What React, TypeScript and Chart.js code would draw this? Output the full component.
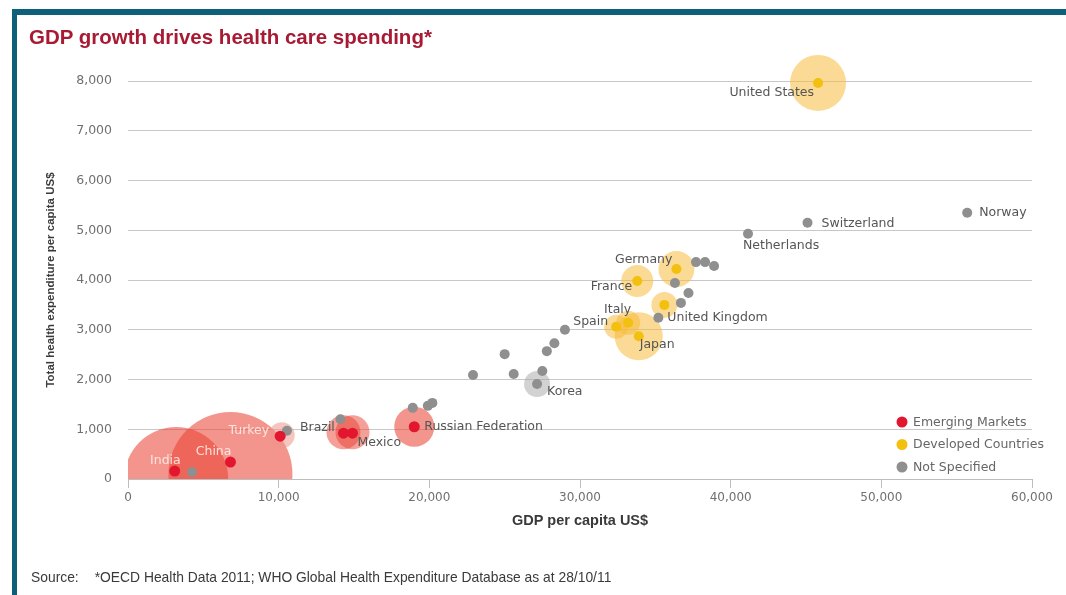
import { useEffect, useRef } from "react";
import { Chart, registerables } from "chart.js";

Chart.register(...registerables);

// ---------- DATA ----------
const xTickValues = [0, 10000, 20000, 30000, 40000, 50000, 60000];
const yTickValues = [0, 1000, 2000, 3000, 4000, 5000, 6000, 7000, 8000];

// Emerging markets (red)
const emergingNames = ["India", "China", "Turkey", "Mexico", "", "Russian Federation"];
const emergingGdp = [3100, 6800, 10100, 14300, 14900, 19000];
const emergingHealth = [160, 340, 860, 920, 920, 1050];
// emerging bubbles
const emergingBubbleGdp = [3200, 6800, 10200, 14300, 14900, 19000];
const emergingBubbleHealth = [0, 100, 880, 940, 940, 1050];
const emergingBubbleSize = [52, 62, 13, 17, 17, 20];

// Developed countries (yellow)
const developedNames = ["United States", "Germany", "France", "United Kingdom", "Italy", "Spain", "Japan"];
const developedGdp = [45800, 36400, 33800, 35600, 33200, 32400, 33900];
const developedHealth = [7960, 4220, 3980, 3500, 3140, 3060, 2870];
const developedBubbleSize = [28, 18, 16, 13, 12, 12, 24];

// Not specified (grey)
const otherNames = ["", "Brazil", "", "", "", "", "", "", "", "", "", "", "", "Korea", "", "", "", "", "", "", "", "Netherlands", "Switzerland", "Norway"];
const otherGdp = [4250, 10550, 14100, 18900, 19900, 20200, 22900, 25000, 25600, 27500, 27800, 28300, 29000, 27150, 35200, 36700, 37200, 36300, 37700, 38300, 38900, 41150, 45100, 55700];
const otherHealth = [140, 970, 1200, 1430, 1470, 1530, 2090, 2510, 2110, 2170, 2570, 2730, 3000, 1910, 3240, 3540, 3740, 3940, 4360, 4360, 4280, 4930, 5150, 5350];
const otherBubbleSize = [0, 0, 0, 0, 0, 0, 0, 0, 0, 0, 0, 0, 0, 13, 0, 0, 0, 0, 0, 0, 0, 0, 0, 0];

const legendLabels = ["Emerging Markets", "Developed Countries", "Not Specified"];

// ---------- STYLES ----------
const RED = "#e2172f";
const YELLOW = "#f3c010";
const GREY = "#8f8f8f";
const emergingBubbleColors = [
  "rgba(234,66,50,0.56)",
  "rgba(234,66,50,0.56)",
  "rgba(238,150,140,0.55)",
  "rgba(234,66,50,0.5)",
  "rgba(234,66,50,0.5)",
  "rgba(234,66,50,0.56)",
];
const developedBubbleColor = "rgba(245,188,60,0.55)";
const otherBubbleColor = "rgba(165,165,165,0.5)";
const labelFont = '12.5px "DejaVu Sans", sans-serif';

const labelLayout: Record<string, { dx: number; dy: number; align: CanvasTextAlign; light?: boolean }> = {
  "United States": { dx: -4, dy: 10, align: "right" },
  Switzerland: { dx: 14, dy: 1, align: "left" },
  Norway: { dx: 12, dy: 0, align: "left" },
  Netherlands: { dx: -5, dy: 12, align: "left" },
  Germany: { dx: -4, dy: -9, align: "right" },
  France: { dx: -5, dy: 6, align: "right" },
  Italy: { dx: 3, dy: -13, align: "right" },
  Spain: { dx: -8, dy: -5, align: "right" },
  "United Kingdom": { dx: 3, dy: 13, align: "left" },
  Japan: { dx: 1, dy: 9, align: "left" },
  Korea: { dx: 10, dy: 8, align: "left" },
  "Russian Federation": { dx: 10, dy: 0, align: "left" },
  Mexico: { dx: 14, dy: 10, align: "left" },
  Brazil: { dx: 13, dy: -3, align: "left" },
  Turkey: { dx: -11, dy: -5, align: "right", light: true },
  China: { dx: 1, dy: -10, align: "right", light: true },
  India: { dx: 6, dy: -10, align: "right", light: true },
};

const countryLabelPlugin = {
  id: "countryLabels",
  afterDatasetsDraw(chart: any) {
    const ctx = chart.ctx;
    ctx.save();
    ctx.font = labelFont;
    ctx.textBaseline = "middle";
    chart.data.datasets.forEach((ds: any, di: number) => {
      if (!ds.names) return;
      const meta = chart.getDatasetMeta(di);
      ds.names.forEach((name: string, i: number) => {
        if (!name) return;
        const el = meta.data[i];
        const lay = labelLayout[name] || { dx: 8, dy: 0, align: "left" };
        ctx.textAlign = lay.align;
        ctx.fillStyle = lay.light ? "rgba(255,236,232,0.9)" : "#555555";
        ctx.fillText(name, el.x + lay.dx, el.y + lay.dy);
      });
    });
    ctx.restore();
  },
};

const legendPlugin = {
  id: "customLegend",
  afterDraw(chart: any) {
    const { ctx, chartArea } = chart;
    const colors = [RED, YELLOW, GREY];
    ctx.save();
    ctx.font = labelFont;
    ctx.textBaseline = "middle";
    ctx.textAlign = "left";
    legendLabels.forEach((text, i) => {
      const cx = chartArea.right - 130;
      const cy = chartArea.bottom - 57 + i * 22.5;
      ctx.beginPath();
      ctx.arc(cx, cy, 5.5, 0, Math.PI * 2);
      ctx.fillStyle = colors[i];
      ctx.fill();
      ctx.fillStyle = "#666666";
      ctx.fillText(text, cx + 11, cy + 0.5);
    });
    ctx.restore();
  },
};

export default function App() {
  const canvasRef = useRef<HTMLCanvasElement | null>(null);

  useEffect(() => {
    if (!canvasRef.current) return;
    const clip = { left: 0, top: 40, right: 0, bottom: 0 };
    const chart = new Chart(canvasRef.current, {
      type: "bubble",
      data: {
        datasets: [
          {
            type: "scatter",
            label: "Developed Countries",
            data: developedGdp.map((x, i) => ({ x, y: developedHealth[i] })),
            backgroundColor: YELLOW,
            pointRadius: 5,
            pointBorderWidth: 0,
            order: 1,
            clip,
            names: developedNames,
          } as any,
          {
            type: "scatter",
            label: "Emerging Markets",
            data: emergingGdp.map((x, i) => ({ x, y: emergingHealth[i] })),
            backgroundColor: RED,
            pointRadius: 5.5,
            pointBorderWidth: 0,
            order: 2,
            clip,
            names: emergingNames,
          } as any,
          {
            type: "scatter",
            label: "Not Specified",
            data: otherGdp.map((x, i) => ({ x, y: otherHealth[i] })),
            backgroundColor: GREY,
            pointRadius: 5,
            pointBorderWidth: 0,
            order: 3,
            clip,
            names: otherNames,
          } as any,
          {
            type: "bubble",
            label: "Developed size",
            data: developedGdp.map((x, i) => ({ x, y: developedHealth[i], r: developedBubbleSize[i] })),
            backgroundColor: developedBubbleColor,
            borderWidth: 0,
            order: 4,
            clip,
          } as any,
          {
            type: "bubble",
            label: "Other size",
            data: otherGdp.map((x, i) => ({ x, y: otherHealth[i], r: otherBubbleSize[i] })),
            backgroundColor: otherBubbleColor,
            borderWidth: 0,
            order: 5,
            clip,
          } as any,
          {
            type: "bubble",
            label: "Emerging size",
            data: emergingBubbleGdp.map((x, i) => ({ x, y: emergingBubbleHealth[i], r: emergingBubbleSize[i] })),
            backgroundColor: emergingBubbleColors,
            borderWidth: 0,
            order: 6,
            clip,
          } as any,
        ],
      },
      options: {
        responsive: false,
        animation: false,
        events: [],
        layout: { autoPadding: false, padding: { top: 81, right: 34, left: 0, bottom: 0 } },
        plugins: {
          legend: { display: false },
          tooltip: { enabled: false },
          title: { display: false },
        },
        scales: {
          x: {
            type: "linear",
            min: xTickValues[0],
            max: xTickValues[xTickValues.length - 1],
            afterFit: (s: any) => {
              s.height = 116;
              s.paddingLeft = 0;
              s.paddingRight = 0;
            },
            afterBuildTicks: (s: any) => {
              s.ticks = xTickValues.map((v) => ({ value: v }));
            },
            grid: {
              drawOnChartArea: false,
              drawTicks: true,
              tickLength: 9,
              color: "#bdbdbd",
            },
            border: { display: true, color: "#bdbdbd" },
            ticks: {
              padding: 3,
              color: "#707070",
              font: { family: '"DejaVu Sans", sans-serif', size: 12 },
              callback: (v: any) => Number(v).toLocaleString("en-US"),
              maxRotation: 0,
              autoSkip: false,
            },
            title: {
              display: true,
              text: "GDP per capita US$",
              color: "#3a3a3a",
              font: { family: '"Liberation Sans", Arial, sans-serif', size: 14.5, weight: "bold" },
              padding: { top: 0, bottom: 65 },
            },
          },
          y: {
            type: "linear",
            min: yTickValues[0],
            max: yTickValues[yTickValues.length - 1],
            afterFit: (s: any) => {
              s.width = 128;
              s.paddingTop = 0;
              s.paddingBottom = 0;
            },
            afterBuildTicks: (s: any) => {
              s.ticks = yTickValues.map((v) => ({ value: v }));
            },
            grid: { color: "#c8c8c8", drawTicks: false },
            border: { display: false },
            ticks: {
              padding: 16,
              color: "#707070",
              font: { family: '"DejaVu Sans", sans-serif', size: 12.5 },
              callback: (v: any) => Number(v).toLocaleString("en-US"),
              autoSkip: false,
            },
            title: {
              display: true,
              text: "Total health expenditure per capita US$",
              color: "#3a3a3a",
              font: { family: '"Liberation Sans", Arial, sans-serif', size: 11.5, weight: "bold" },
              padding: { top: 44, bottom: 0 },
            },
          },
        },
      },
      plugins: [countryLabelPlugin, legendPlugin],
    });
    return () => chart.destroy();
  }, []);

  return (
    <div style={{ position: "fixed", left: 0, top: 0, width: 1066, height: 595, background: "#fff", overflow: "hidden" }}>
      <canvas ref={canvasRef} width={1066} height={595} style={{ position: "absolute", left: 0, top: 0 }} />
      <div style={{ position: "absolute", left: 12, top: 9, width: 1054, height: 6, background: "#0e5f79" }} />
      <div style={{ position: "absolute", left: 12, top: 9, width: 5, height: 586, background: "#0e5f79" }} />
      <div
        style={{
          position: "absolute",
          left: 29,
          top: 26,
          fontFamily: '"Liberation Sans", Arial, sans-serif',
          fontWeight: "bold",
          fontSize: 20.5,
          lineHeight: "21px",
          color: "#a81a33",
          whiteSpace: "nowrap",
        }}
      >
        GDP growth drives health care spending*
      </div>
      <div
        style={{
          position: "absolute",
          left: 31,
          top: 569,
          fontFamily: '"Liberation Sans", Arial, sans-serif',
          fontSize: 15,
          lineHeight: "16px",
          color: "#3a3a3a",
          whiteSpace: "nowrap",
          transform: "scaleX(0.923)",
          transformOrigin: "0 0",
        }}
      >
        <span style={{ display: "inline-block", width: 69 }}>Source:</span>
        *OECD Health Data 2011; WHO Global Health Expenditure Database as at 28/10/11
      </div>
    </div>
  );
}
